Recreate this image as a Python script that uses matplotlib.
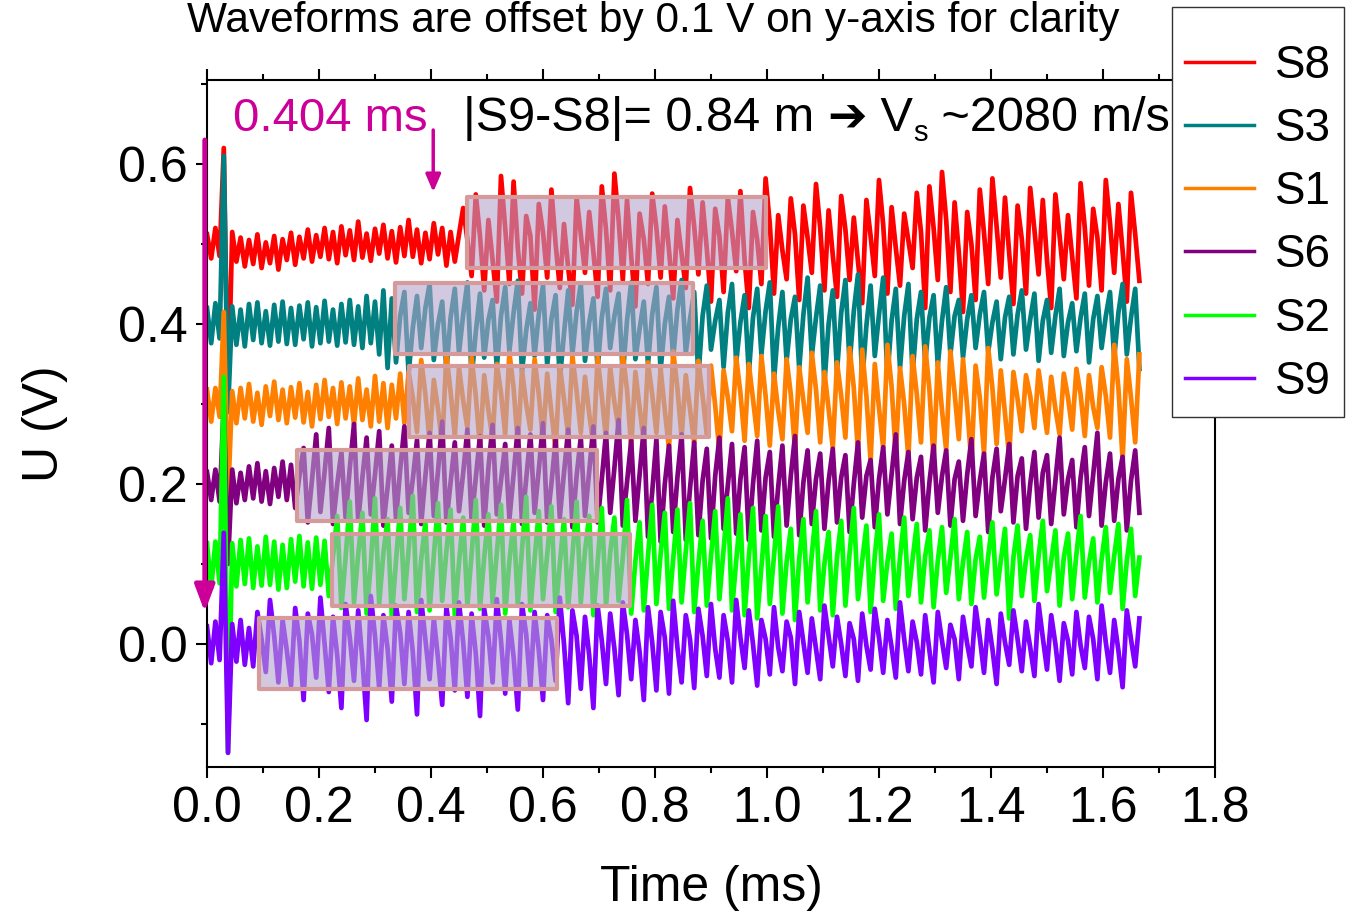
import numpy as np
import matplotlib
matplotlib.use("Agg")
import matplotlib.pyplot as plt
from matplotlib.patches import Rectangle
from matplotlib.transforms import IdentityTransform
from matplotlib.ticker import MultipleLocator, FormatStrFormatter

plt.rcParams['font.family'] = ['Liberation Sans', 'DejaVu Sans']

# ---------------------------------------------------------------- data
dt_ms = 0.0075                       # sampling interval of the records
labels = ["S8", "S3", "S1", "S6", "S2", "S9"]
offsets_v = [0.5, 0.4, 0.3, 0.2, 0.1, 0.0]   # display offset per sensor

# recorded samples, mV relative to each sensor's display offset
s8_mv = [12, -18, 20, -15, 120, -200,
         15, -22, 8, -28, 5, -25, 12, -30, 2, -24, 10, -32, 6, -20,
         14, -26, 9, -18, 18, -22, 11, -16, 20, -19, 15, -24, 22, -14,
         17, -20, 28, -17, 13, -21, 19, -12, 24, -18, 16, -23, 21, -15,
         30, -16, 18, -24, 14, -19, 26, -13, 20, -27, 15, -22, 12,
         45, 5, -40, 62, 10, -58, 30, -20, -72, 85, 20, -50, 78, -5, -62, 35, 10, -82, 50, 15, -42, 68, 0, -55,
         25, -30, -76, 58, 12, -36, 40, -10, -66, 72, 18, -58, 88, 30, -45, 55, -15, -78, 38, 6, -50, 63, 20, -42,
         47, -8, -68, 30, -12, -55, 70, 22, -38, 52, -6, -72, 44, 10, -60, 58, 16, -34, 66, -20, -80, 40, 5, -50,
         82, 25, -62, 36, -8, -44, 57, 12, -70, 48, 8, -36, 75, 20, -58, 42, -14, -66, 60, 18, -45, 33, -22, -74,
         55, 10, -40, 80, 24, -62, 46, -5, -52, 38, 4, -30, 64, 15, -80, 72, 20, -45, 90, 30, -60, 52, -10, -85,
         40, 0, -70, 68, 14, -50, 82, 22, -42, 58, -12, -75, 48, 6, -62, 70, 18, -38, 55, -20, -80, 62, 10, -44,
         36, -16, -68, 76, 20, -52, 44, 8, -58, 80, 26, -36, 50, -8, -72, 64, 12, -46]

s3_mv = [20, -24, 26, -18, 210, -110,
         22, -26, 18, -28, 25, -20, 27, -24, 16, -27, 24, -22, 28, -25,
         20, -26, 23, -19, 27, -28, 21, -24, 29, -22, 18, -27, 25, -23,
         30, -26, 22, -30, 35, -24, 28, -38, 42, -55, 32,
         -48, 10, 40, -62, -5, 35, -30, 20, 50, -45, 0, 28, -58, 8, 44, -36, 12, 52, -68, -10, 38, -42, 5, 30,
         -55, 10, 46, -34, 14, 54, -60, -8, 26, -40, 12, 48, -52, 6, 36, -70, -12, 42, -38, 15, 50, -46, 2, 32,
         -56, 8, 44, -30, 10, 38, -64, 4, 52, -44, -6, 28, -50, 12, 46, -58, 0, 34, -42, 18, 55, -36, 6, 40,
         -66, 10, 48, -32, 4, 30, -54, 14, 50, -48, 2, 36, -62, 8, 44, -38, 16, 52, -70, -4, 40, -46, 6, 34,
         -56, 12, 58, -40, 8, 48, -75, 0, 42, -60, 14, 55, -50, 16, 62, -72, -2, 48, -40, 12, 58, -66, 4, 44,
         -55, 10, 50, -62, 6, 40, -48, 8, 36, -52, 4, 46, -38, 10, 30, -42, 6, 36, -30, 12, 40, -35, 2, 28,
         -44, 8, 34, -38, 12, 42, -32, 6, 38, -46, 4, 30, -36, 10, 44, -40, 2, 26, -34, 8, 38, -48, 6, 35,
         -30, 10, 40, -42, 14, 50, -38, 8, 44, -56]

s1_mv = [18, -22, 20, -16, 115, -120,
         16, -24, 20, -18, 25, -22, 14, -26, 22, -15, 28, -20, 18, -24,
         21, -17, 26, -23, 15, -28, 24, -19, 30, -16, 20, -25, 27, -18,
         22, -26, 32, -20, 18, -28, 35, -22, 26, -30, 24, -18, 38, -24,
         40, 8, -35, 55, 12, -48, 30, -6, -52, 62, 15, -40, 45, 4, -30, 58, 10, -55, 36, -8, -44, 50, 14, -38,
         64, 20, -50, 42, 0, -32, 56, 12, -46, 38, -10, -58, 48, 6, -40, 60, 16, -36, 34, -12, -52, 58, 10, -44,
         46, 2, -30, 62, 18, -54, 40, -4, -48, 52, 12, -36, 44, -8, -56, 66, 20, -42, 36, -6, -50, 54, 10, -38,
         48, -2, -60, 42, 8, -34, 58, 14, -46, 50, 6, -40, 60, 10, -52, 38, -8, -44, 56, 12, -58, 46, 4, -36,
         64, 18, -48, 40, -6, -55, 52, 10, -42, 70, 20, -60, 68, 10, -72, 50, -5, -55, 74, 22, -64, 45, 0, -68,
         60, 12, -48, 72, 18, -70, 52, -8, -58, 66, 14, -44, 56, -4, -74, 48, 8, -62, 70, 20, -50, 42, -12, -66,
         40, 6, -34, 36, 10, -30, 42, 4, -36, 34, -6, -38, 38, 8, -32, 44, 12, -40, 36, -4, -30, 46, 10, -42,
         74, 20, -70, 56, 8, -48, 62]

s6_mv = [15, -20, 18, -22, 100, -100,
         18, -24, 14, -20, 22, -18, 26, -22, 16, -25, 20, -16, 28, -20, 24,
         -30, 10, 45, -48, 5, 62, -35, 15, 70, -50, 0, 40, -42, 20, 75, -46, 8, 58, -38, 12, 66, -52, -4, 48,
         -44, 18, 72, -36, 6, 55, -50, 10, 64, -40, 16, 78, -48, 2, 52, -34, 14, 68, -46, 8, 60, -52, 20, 74,
         -38, 4, 50, -44, 12, 70, -50, 6, 62, -36, 18, 76, -48, 0, 56, -42, 14, 68, -54, 10, 58, -40, 16, 72,
         -48, 6, 64, -36, 20, 80, -52, 2, 54, -46, 12, 70, -66, -10, 56, -72, 0, 48, -60, 8, 62, -70, -6, 52,
         -64, 4, 44, -68, 10, 58, -56, -2, 50, -62, 6, 46, -70, 0, 54, -58, 8, 40, -66, -4, 48, -52, 10, 60,
         -64, 2, 42, -50, 6, 38, -56, 4, 44, -48, 8, 36, -60, 0, 52, -42, 10, 30, -54, 6, 46, -38, 12, 62,
         -50, 4, 40, -44, 8, 34, -58, 2, 48, -36, 10, 42, -52, 6, 28, -46, 12, 56, -40, 4, 38, -60, 8, 44,
         -34, 6, 50, -48, 10, 32, -56, 0, 40, -42, 14, 36, -50, 4, 58, -38, 6, 30, -54, 8, 46, -40, 12, 64,
         -52, 2, 38, -46, 6, 34, -58, 4, 42, -36]

s2_mv = [26, -30, 28, -24, 234, -236,
         26, -28, 30, -25, 32, -30, 22, -27, 34, -26, 28, -32, 24, -30,
         31, -22, 35, -28, 27, -31, 33, -26, 29,
         -40, 10, 60, -55, 8, 78, -48, 12, 64, -62, 0, 82, -50, 14, 56, -66, 4, 70, -44, 18, 85, -60, 6, 52,
         -58, 10, 76, -46, 16, 68, -64, 2, 58, -52, 12, 80, -56, 8, 62, -48, 14, 74, -62, 4, 54, -50, 18, 84,
         -58, 6, 66, -44, 12, 72, -60, 0, 56, -54, 10, 78, -48, 16, 60, -64, 2, 70, -52, 14, 58, -46, 8, 80,
         -62, 4, 52, -58, 10, 74, -50, 12, 64, -56, 6, 68, -48, 16, 76, -60, 0, 54, -52, 10, 66, -44, 18, 82,
         -58, 4, 62, -64, 8, 70, -68, -4, 60, -50, 10, 72, -62, 2, 44, -70, 6, 56, -48, 12, 66, -58, 0, 40,
         -64, 8, 54, -52, 14, 70, -44, 4, 48, -60, 10, 62, -46, 2, 38, -56, 8, 58, -40, 6, 50, -48, 10, 42,
         -54, 4, 46, -36, 8, 56, -44, 2, 40, -50, 6, 34, -42, 10, 52, -38, 4, 44, -68, 8, 48, -40, 6, 36,
         -46, 10, 54, -34, 4, 42, -52, 8, 38, -44, 12, 60, -42, 2, 32, -48, 6, 46, -36, 10, 50, -56, 4, 44,
         -40, 8]

s9_mv = [22, -24, 28, -20, 139, -136,
         25, -22, 30, -26, 20, -28,
         40, 6, -35, 55, 10, -48, 30, -8, -52, 45, 4, -70, 38, 12, -42, 58, 0, -60, 34, -14, -80, 50, 8, -46,
         42, -20, -95, 60, 10, -55, 36, -6, -72, 48, 14, -50, 40, -10, -88, 55, 6, -44, 32, -18, -76, 46, 8, -58,
         52, 2, -66, 38, -12, -90, 44, 10, -48, 56, 4, -62, 30, -16, -82, 50, 12, -54, 40, -8, -70, 36, 6, -46,
         58, 0, -74, 42, 10, -56, 34, -14, -80, 48, 4, -50, 38, -6, -64, 52, 12, -44, 30, -10, -70, 46, 2, -58,
         40, 8, -62, 54, -4, -48, 36, 6, -55, 44, 10, -40, 50, -6, -42, 36, 4, -48, 55, 8, -30, 42, 0, -52,
         30, 6, -38, 46, -4, -34, 28, 8, -50, 40, 2, -36, 32, -6, -44, 48, 10, -28, 34, 0, -40, 26, 6, -46,
         38, -2, -32, 44, 8, -36, 30, -4, -42, 52, 6, -34, 28, 2, -38, 36, -8, -48, 40, 4, -30, 24, 6, -44,
         34, 0, -28, 46, 8, -36, 30, -6, -50, 38, 2, -26, 42, 6, -34, 28, -4, -40, 50, 8, -32, 36, 0, -46,
         26, 4, -38, 40, -2, -30, 34, 6, -44, 48, 2, -36, 30, -8, -54, 42, 6, -28, 32]

traces_mv = [s8_mv, s3_mv, s1_mv, s6_mv, s2_mv, s9_mv]

# picked arrival windows (ms) and their vertical extent (V)
win_start_ms = [0.464, 0.336, 0.361, 0.161, 0.223, 0.093]
win_end_ms = [0.998, 0.868, 0.896, 0.696, 0.755, 0.625]
win_low_v = [0.470, 0.3625, 0.259, 0.154, 0.0475, -0.056]
win_high_v = [0.559, 0.451, 0.3475, 0.2425, 0.1375, 0.0325]

delay_ms = 0.404
x_ticks = [0.0, 0.2, 0.4, 0.6, 0.8, 1.0, 1.2, 1.4, 1.6, 1.8]
y_ticks = [0.0, 0.2, 0.4, 0.6]

# ---------------------------------------------------------------- style
colors = ['#FF0000', '#008080', '#FF8000', '#800080', '#00FF00', '#8000FF']
magenta = '#CC0099'
W, H = 1358, 919

fig = plt.figure(figsize=(W / 100, H / 100), dpi=100)
ax = fig.add_axes([207 / W, 1 - 767 / H, (1215 - 207) / W, (767 - 80) / H])

for vals, off, col, lab in zip(traces_mv, offsets_v, colors, labels):
    v = off + np.asarray(vals, dtype=float) / 1000.0
    t = np.arange(len(v)) * dt_ms
    ax.plot(t, v, color=col, lw=3.4, label=lab, zorder=2,
            solid_joinstyle='round')

for x0, x1, y0, y1 in zip(win_start_ms, win_end_ms, win_low_v, win_high_v):
    ax.add_patch(Rectangle((x0, y0), x1 - x0, y1 - y0,
                           facecolor=(179 / 255, 163 / 255, 204 / 255, 0.59),
                           edgecolor='#D69A9A', lw=3.0, joinstyle='round',
                           zorder=3))

ax.set_xlim(0, 1.8)
ax.set_ylim(-0.15375, 0.705)
ax.set_xticks(x_ticks)
ax.set_yticks(y_ticks)
ax.xaxis.set_major_formatter(FormatStrFormatter('%.1f'))
ax.yaxis.set_major_formatter(FormatStrFormatter('%.1f'))
ax.xaxis.set_minor_locator(MultipleLocator(0.1))
ax.yaxis.set_minor_locator(MultipleLocator(0.1))
ax.tick_params(which='both', direction='out', top=True, right=False,
               width=1.5, labelsize=36, pad=6)
ax.tick_params(which='major', length=8)
ax.tick_params(which='minor', length=4.5)
for sp in ax.spines.values():
    sp.set_linewidth(1.5)

ax.set_xlabel('Time (ms)', fontsize=36)
ax.set_ylabel('U (V)', fontsize=36)
ax.xaxis.set_label_coords(0.5, -0.142)
ax.yaxis.set_label_coords(-0.138, 0.5)

fig.text(653 / W, 1 - 1 / H, 'Waveforms are offset by 0.1 V on y-axis for clarity',
         fontsize=30.5, ha='center', va='top')

# arrival-delay arrows
ax.annotate('', xy=(-0.004, 0.04), xytext=(-0.004, 0.63),
            arrowprops=dict(arrowstyle='-|>,head_length=0.8,head_width=0.3',
                            color=magenta, lw=3.5, mutation_scale=20,
                            shrinkA=0, shrinkB=0),
            annotation_clip=False, zorder=5)
ax.annotate('', xy=(delay_ms, 0.565), xytext=(delay_ms, 0.6425),
            arrowprops=dict(arrowstyle='-|>,head_length=0.65,head_width=0.28',
                            color=magenta, lw=2.5, mutation_scale=16,
                            shrinkA=0, shrinkB=0),
            annotation_clip=False, zorder=5)
ax.text(0.046, 0.641, f'{delay_ms:.3f} ms', color=magenta, fontsize=34,
        va='baseline', ha='left')

# velocity note, assembled piece by piece so the subscript sits right
renderer = fig.canvas.get_renderer()
xd, yd = ax.transData.transform((0.457, 0.641))
pieces = [('|S9-S8|= 0.84 m ', 35, 0, ['Liberation Sans']),
          ('\u2794', 34, 0, ['DejaVu Sans']),
          (' V', 35, 0, ['Liberation Sans']),
          ('s', 21, -10, ['Liberation Sans']),
          (' ~2080 m/s', 35, 0, ['Liberation Sans'])]
for txt, size, dy, fam in pieces:
    tt = fig.text(xd, yd + dy, txt, fontsize=size, family=fam,
                  va='baseline', ha='left', transform=IdentityTransform())
    xd += tt.get_window_extent(renderer).width

leg = ax.legend(loc='upper left', bbox_to_anchor=(1172 / W, 1 - 7 / H),
                bbox_transform=fig.transFigure, borderaxespad=0,
                fontsize=33, frameon=True, fancybox=False, framealpha=1.0,
                handlelength=1.5, handletextpad=0.45, labelspacing=0.42,
                borderpad=0.29, title=' ', title_fontsize=2)
leg.get_frame().set_edgecolor('#333333')
leg.get_frame().set_linewidth(1.0)
for ln in leg.get_lines():
    ln.set_linewidth(2.5)

fig.savefig('out.png', dpi=100)
